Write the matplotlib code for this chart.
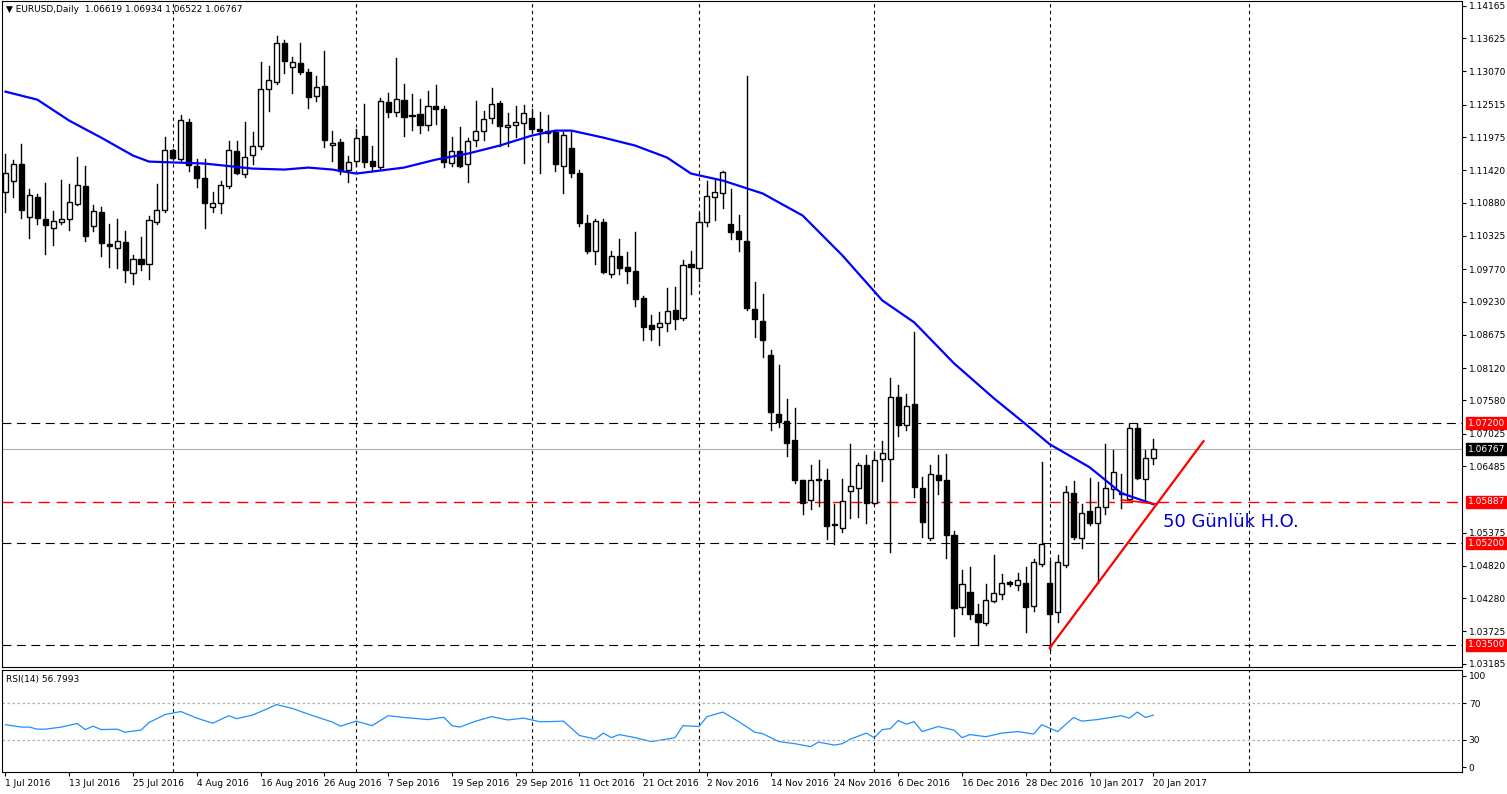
import matplotlib
matplotlib.use('Agg')
import matplotlib.pyplot as plt
from matplotlib.patches import Rectangle

# OHLC daily EURUSD
ohlc = [
 (1.11059,1.11692,1.10720,1.11370),(1.11248,1.11592,1.10970,1.11526),(1.11526,1.11859,1.10626,1.10759),
 (1.10648,1.11109,1.10292,1.11009),(1.10981,1.11026,1.10526,1.10626),(1.10609,1.11204,1.10026,1.10509),
 (1.10459,1.10748,1.10165,1.10576),(1.10554,1.11259,1.10526,1.10609),(1.10609,1.11192,1.10426,1.10887),
 (1.10859,1.11648,1.10840,1.11176),(1.11165,1.11498,1.10237,1.10326),(1.10492,1.10848,1.10415,1.10742),
 (1.10731,1.10815,1.09992,1.10209),(1.10192,1.10526,1.09804,1.10159),(1.10126,1.10615,1.09781,1.10242),
 (1.10226,1.10415,1.09559,1.09759),(1.09709,1.09998,1.09526,1.09942),(1.09942,1.10304,1.09748,1.09859),
 (1.09859,1.10665,1.09609,1.10592),(1.10559,1.11192,1.10526,1.10759),(1.10759,1.11981,1.10720,1.11759),
 (1.11765,1.11776,1.11609,1.11626),(1.11609,1.12348,1.11570,1.12259),(1.12231,1.12276,1.11415,1.11509),
 (1.11498,1.11609,1.11137,1.11292),(1.11298,1.11609,1.10459,1.10876),(1.10809,1.11059,1.10720,1.10876),
 (1.10876,1.11237,1.10704,1.11181),(1.11159,1.11915,1.11126,1.11759),(1.11748,1.11915,1.11359,1.11370),
 (1.11359,1.12220,1.11304,1.11642),(1.11676,1.12054,1.11526,1.11826),(1.11826,1.13231,1.11776,1.12776),
 (1.12776,1.13165,1.12404,1.12926),(1.12887,1.13665,1.12859,1.13542),(1.13542,1.13592,1.13037,1.13237),
 (1.13148,1.13315,1.12704,1.13220),(1.13215,1.13542,1.13026,1.13054),(1.13065,1.13109,1.12454,1.12637),
 (1.12665,1.12998,1.12581,1.12815),(1.12831,1.13415,1.11804,1.11926),(1.11842,1.12081,1.11570,1.11881),
 (1.11898,1.11942,1.11359,1.11415),(1.11426,1.11659,1.11220,1.11565),(1.11581,1.12109,1.11498,1.11959),
 (1.11992,1.12531,1.11470,1.11559),(1.11581,1.11831,1.11415,1.11492),(1.11470,1.12626,1.11442,1.12581),
 (1.12565,1.12709,1.12304,1.12387),(1.12387,1.13298,1.12331,1.12609),(1.12592,1.12859,1.11987,1.12304),
 (1.12348,1.12692,1.12098,1.12326),(1.12359,1.12609,1.12037,1.12170),(1.12176,1.12748,1.12098,1.12498),
 (1.12498,1.12848,1.12192,1.12437),(1.12443,1.12498,1.11481,1.11554),(1.11542,1.11981,1.11498,1.11748),
 (1.11748,1.12148,1.11481,1.11498),(1.11526,1.11959,1.11220,1.11915),(1.11926,1.12581,1.11831,1.12081),
 (1.12076,1.12415,1.11931,1.12276),(1.12292,1.12792,1.12204,1.12526),(1.12542,1.12581,1.11831,1.12154),
 (1.12143,1.12376,1.11831,1.12181),(1.12176,1.12498,1.11970,1.12226),(1.12209,1.12515,1.11537,1.12376),
 (1.12292,1.12443,1.12054,1.12104),(1.12109,1.12398,1.11370,1.12070),(1.12070,1.12348,1.11887,1.12048),
 (1.12054,1.12081,1.11415,1.11526),(1.11492,1.12054,1.11037,1.12009),(1.11792,1.12054,1.11304,1.11370),
 (1.11376,1.11431,1.10487,1.10537),(1.10543,1.10681,1.10037,1.10065),(1.10070,1.10609,1.09848,1.10576),
 (1.10565,1.10604,1.09704,1.09720),(1.09692,1.10081,1.09637,1.09992),(1.09992,1.10265,1.09692,1.09792),
 (1.09798,1.10054,1.09537,1.09737),(1.09731,1.10398,1.09154,1.09270),(1.09292,1.09315,1.08581,1.08804),
 (1.08831,1.08998,1.08581,1.08770),(1.08804,1.09054,1.08498,1.08876),(1.08870,1.09459,1.08737,1.09076),
 (1.09081,1.09470,1.08765,1.08937),(1.08954,1.09915,1.08926,1.09842),(1.09859,1.10081,1.09359,1.09804),
 (1.09792,1.10709,1.09570,1.10559),(1.10559,1.11248,1.10487,1.10992),(1.10976,1.11259,1.10592,1.11054),
 (1.11043,1.11403,1.10787,1.11392),(1.10526,1.11115,1.10265,1.10387),(1.10409,1.10681,1.10081,1.10270),
 (1.10248,1.12998,1.09081,1.09120),(1.09098,1.09554,1.08637,1.08942),(1.08898,1.09350,1.08304,1.08592),
 (1.08331,1.08415,1.07092,1.07387),(1.07359,1.08165,1.07137,1.07220),(1.07231,1.07598,1.06654,1.06870),
 (1.06915,1.07459,1.06204,1.06248),(1.06248,1.06260,1.05692,1.05876),(1.05926,1.06498,1.05776,1.06259),
 (1.06276,1.06581,1.05820,1.06248),(1.06248,1.06431,1.05259,1.05487),(1.05515,1.05848,1.05176,1.05498),
 (1.05459,1.06276,1.05376,1.05909),(1.06076,1.06859,1.05620,1.06159),(1.06126,1.06542,1.05637,1.06498),
 (1.06498,1.06665,1.05526,1.05876),(1.05876,1.06720,1.05859,1.06592),(1.06609,1.06898,1.06237,1.06709),
 (1.06609,1.07959,1.05054,1.07642),(1.07642,1.07842,1.06981,1.07176),(1.07176,1.07681,1.07081,1.07492),
 (1.07526,1.08720,1.05970,1.06137),(1.06126,1.06304,1.05304,1.05554),(1.05287,1.06509,1.05248,1.06359),
 (1.06331,1.06676,1.06026,1.06259),(1.06248,1.06692,1.04954,1.05342),(1.05326,1.05398,1.03654,1.04120),
 (1.04126,1.04748,1.04015,1.04509),(1.04376,1.04804,1.03931,1.04009),(1.04015,1.04181,1.03498,1.03887),
 (1.03859,1.04515,1.03831,1.04242),(1.04231,1.04998,1.04220,1.04359),(1.04348,1.04681,1.04265,1.04537),
 (1.04554,1.04565,1.04487,1.04520),(1.04498,1.04692,1.04415,1.04581),(1.04526,1.04804,1.03709,1.04137),
 (1.04148,1.04937,1.04070,1.04887),(1.04842,1.06554,1.04820,1.05176),(1.04531,1.04898,1.03415,1.04020),
 (1.04042,1.04998,1.03887,1.04887),(1.04831,1.06154,1.04804,1.06059),(1.06042,1.06231,1.05265,1.05304),
 (1.05276,1.05859,1.05109,1.05709),(1.05731,1.06287,1.05504,1.05537),(1.05542,1.06220,1.04537,1.05804),
 (1.05804,1.06848,1.05692,1.06126),(1.06109,1.06748,1.05954,1.06392),(1.06037,1.06359,1.05792,1.06015),
 (1.05942,1.07192,1.05915,1.07126),(1.07126,1.07192,1.06276,1.06292),(1.06276,1.06759,1.05887,1.06626),
 (1.06619,1.06934,1.06522,1.06767),
]

# 50-day moving average, read at selected bars
ma_bar = [0,4,8,12,16,18,25,31,35,38,41,44,47,50,54,58,62,66,69,71,75,79,83,86,90,95,100,105,110,114,119,124,128,131,136,140,144]
ma_val = [1.12732,1.12598,1.12248,1.11965,1.11665,1.11565,1.11532,1.11448,1.11432,1.11465,1.11432,1.11365,1.11415,
          1.11465,1.11598,1.11698,1.11832,1.11998,1.12082,1.12082,1.11965,1.11832,1.11632,1.11365,1.11248,1.11032,
          1.10665,1.09998,1.09248,1.08882,1.08198,1.07615,1.07182,1.06848,1.06465,1.06032,1.05848]

# RSI(14)
rsi_bar = [0,2,3,4,5,7,9,10,11,12,14,15,17,18,20,22,24,26,28,29,31,33,34,36,38,41,42,44,46,48,50,53,55,56,57,59,61,63,
           65,67,68,70,72,74,75,76,77,79,81,83,84,85,87,88,90,92,94,95,97,99,101,102,104,105,106,108,109,110,111,112,
           113,114,115,117,119,120,121,123,125,127,129,130,132,134,135,137,140,141,142,143,144]
rsi_val = [46.4,43.8,43.8,41.5,41.5,43.8,47.7,41.1,44.8,41.1,41.5,38.2,40.5,48.7,57.5,60.8,53.6,48.0,56.2,53.0,56.9,
           64.4,68.4,64.1,57.9,49.3,44.8,50.3,45.4,56.2,54.3,52.0,54.6,45.4,43.8,50.3,55.2,51.6,53.6,49.7,49.7,50.3,
           34.6,30.7,37.2,32.3,35.6,32.3,28.0,30.7,32.3,45.4,44.4,55.2,60.2,49.7,38.2,36.6,28.0,25.7,22.5,27.4,24.1,
           25.7,30.7,37.2,32.3,41.1,42.1,51.0,47.0,49.7,38.9,44.4,40.5,32.3,35.6,33.3,37.2,38.9,36.2,46.4,38.9,54.3,
           50.3,52.0,56.2,53.6,60.2,54.3,56.8]

price_ticks = [1.14165,1.13625,1.13070,1.12515,1.11975,1.11420,1.10880,1.10325,1.09770,1.09230,1.08675,
               1.08120,1.07580,1.07025,1.06485,1.05375,1.04820,1.04280,1.03725,1.03185]
date_labels = ['1 Jul 2016','13 Jul 2016','25 Jul 2016','4 Aug 2016','16 Aug 2016','26 Aug 2016','7 Sep 2016',
               '19 Sep 2016','29 Sep 2016','11 Oct 2016','21 Oct 2016','2 Nov 2016','14 Nov 2016','24 Nov 2016',
               '6 Dec 2016','16 Dec 2016','28 Dec 2016','10 Jan 2017','20 Jan 2017']
month_lines = [21,44,66,87,109,131,156]
levels_black = [1.0720,1.0520,1.0350]
level_red = 1.05887
last_price = 1.06767

fig = plt.figure(figsize=(15.07,7.94), dpi=100)
ax = fig.add_axes([0.001,0.16,0.969,0.839])
ax2 = fig.add_axes([0.001,0.028,0.969,0.128])
xmax = 182.7

for i,(o,h,l,c) in enumerate(ohlc):
    ax.plot([i,i],[l,h],color='black',lw=1,zorder=3)
    bot, top = min(o,c), max(o,c)
    if top-bot < 0.00008:
        ax.plot([i-0.3,i+0.3],[c,c],color='black',lw=1.2,zorder=4)
    else:
        ax.add_patch(Rectangle((i-0.32,bot),0.64,top-bot,facecolor='white' if c>=o else 'black',
                               edgecolor='black',lw=1,zorder=4))

ax.plot(ma_bar,ma_val,color='#0000ff',lw=1.6,zorder=5)

for lv in levels_black:
    ax.axhline(lv,color='black',lw=0.8,dashes=(8,5),zorder=2)
ax.axhline(level_red,color='red',lw=1,dashes=(8,5),zorder=2)
ax.axhline(last_price,color='#b0b0b0',lw=0.8,zorder=1)
for m in month_lines:
    ax.axvline(m,color='black',lw=0.8,ls=(0,(3,3)),zorder=1)
    ax2.axvline(m,color='black',lw=0.8,ls=(0,(3,3)),zorder=1)

# trend line and note
ax.plot([131,150.3],[1.0345,1.0690],color='red',lw=1.6,zorder=6)
ax.plot([140,144.5],[1.0592,1.0585],color='red',lw=1.2,zorder=6)
ax.text(145.2,1.0555,'50 Günlük H.O.',color='#0000cc',fontsize=13,va='center')

ax.set_xlim(-0.5,xmax)
ax.set_ylim(1.03132,1.14248)
ax.yaxis.tick_right()
ax.set_yticks(price_ticks)
ax.set_yticklabels([f'{t:.5f}' for t in price_ticks],fontsize=6.5)
ax.tick_params(axis='y',length=3,pad=2)
ax.set_xticks([])

tr = ax.get_yaxis_transform()
for lv,fc in [(1.0720,'red'),(last_price,'black'),(level_red,'red'),(1.0520,'red'),(1.0350,'red')]:
    ax.text(1.004,lv,f'{lv:.5f}',transform=tr,fontsize=6.5,color='white',va='center',ha='left',
            bbox=dict(boxstyle='square,pad=0.15',fc=fc,ec=fc))
ax.text(0.003,0.994,'▼ EURUSD,Daily  1.06619 1.06934 1.06522 1.06767',transform=ax.transAxes,
        fontsize=6.5,va='top')

ax2.plot(rsi_bar,rsi_val,color='#1e90ff',lw=0.9)
for lv in (70,30):
    ax2.axhline(lv,color='#b0b0b0',lw=0.9,ls=(0,(2,2)))
ax2.set_xlim(-0.5,xmax)
ax2.set_ylim(-5,106)
ax2.yaxis.tick_right()
ax2.set_yticks([100,70,30,0])
ax2.set_yticklabels(['100','70','30','0'],fontsize=6.5)
ax2.tick_params(axis='y',length=3,pad=2)
ax2.set_xticks(range(0,8*len(date_labels),8))
ax2.set_xticklabels(date_labels,fontsize=6.5,ha='left')
ax2.tick_params(axis='x',length=3,pad=2)
ax2.text(0.003,0.95,'RSI(14) 56.7993',transform=ax2.transAxes,fontsize=6.5,va='top')

fig.savefig('out.png',dpi=100)
